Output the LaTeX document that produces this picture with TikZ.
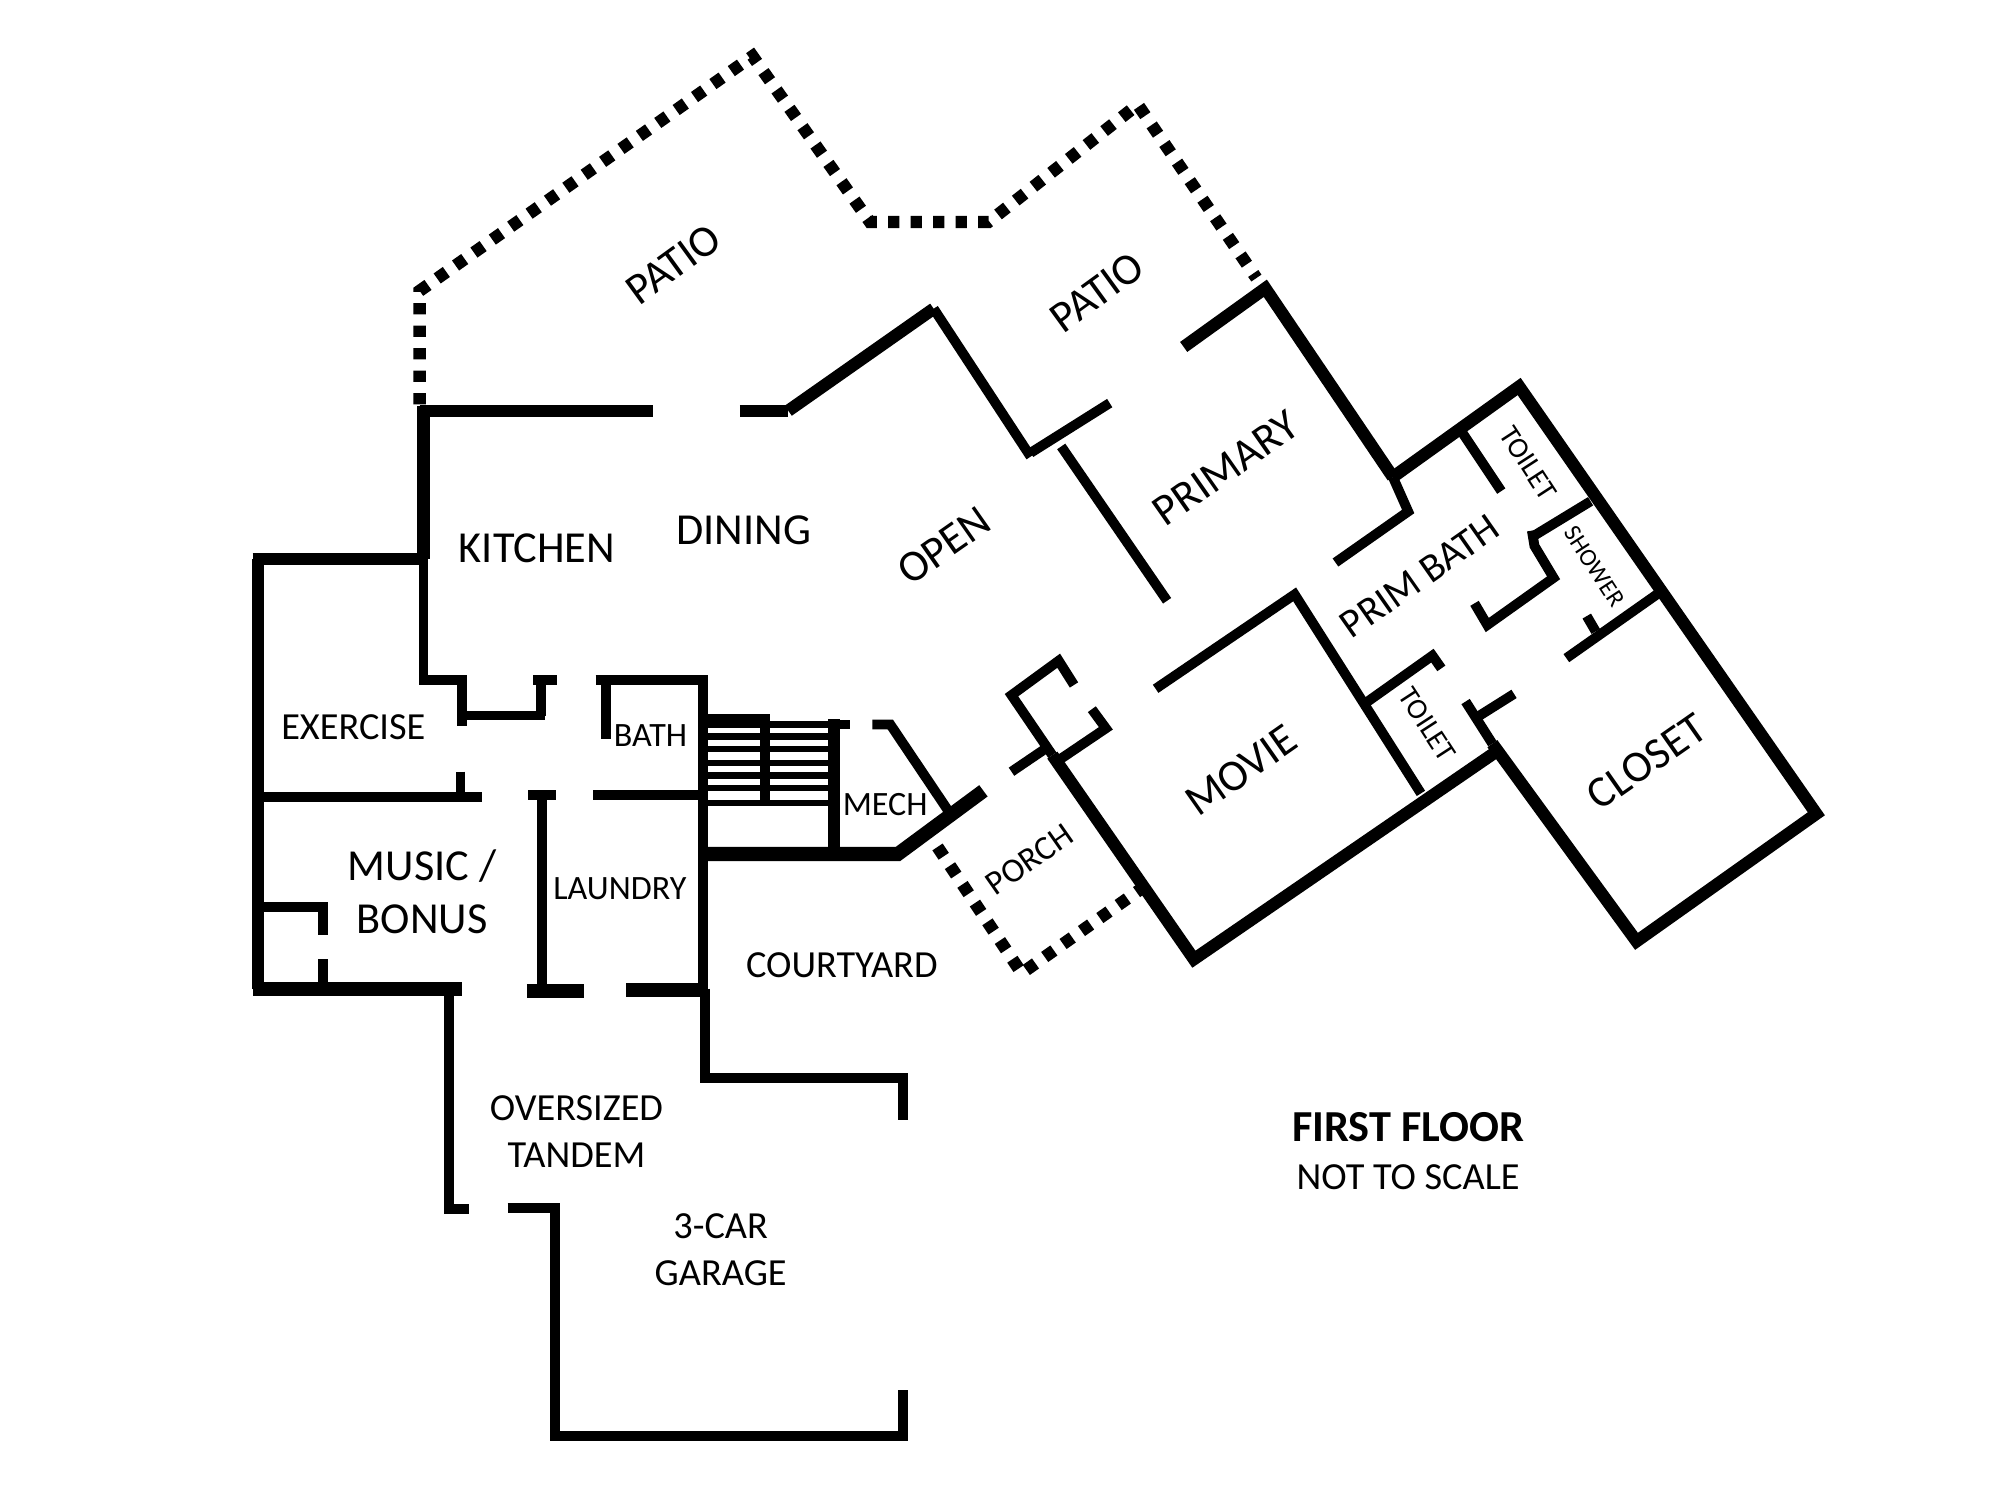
\documentclass[tikz,border=0pt]{standalone}
\usepackage{fontspec}
\setmainfont{Carlito}
\tikzset{
	wall/.style={line width=2.8pt, line join=miter},
	thickwall/.style={line width=3.5pt, line join=miter},
	heavywall/.style={line width=4pt, line join=miter},
	stairline/.style={line width=1.8pt},
	dotwall/.style={line width=3.5pt, dash pattern=on 3.2pt off 3.2pt},
	lbl/.style={font=\fontsize{12.6pt}{15pt}\selectfont, inner sep=0pt},
	lblsmall/.style={font=\fontsize{10.9pt}{13pt}\selectfont, inner sep=0pt},
	lblmini/.style={font=\fontsize{9.7pt}{12pt}\selectfont, inner sep=0pt},
	lbltiny/.style={font=\fontsize{8.3pt}{10pt}\selectfont, inner sep=0pt},
}
\begin{document}
\begin{tikzpicture}[x=0.012755cm, y=-0.012755cm]
	\useasboundingbox (0,0) rectangle (1568,1176);

	% Patio edge
	\draw[dotwall] (329,317) -- (329,228) -- (590,44) -- (682,174) -- (775,174) -- (892,82) -- (985,218);

	% Porch edge
	\draw[dotwall] (735,664) -- (801,763) -- (893,698);

	% West wing
	\draw[thickwall] (202,775) -- (202,438);
	\draw[thickwall] (198,438) -- (332,438);
	\draw[heavywall] (198,775) -- (362,775);
	\draw[wall] (202,625) -- (378,625);
	\draw[wall] (202,711) -- (257,711);
	\draw[wall] (253,708) -- (253,733);
	\draw[wall] (253,752) -- (253,775);
	\draw[wall] (361,605) -- (361,625);

	% Kitchen and bath
	\draw[thickwall] (332,318) -- (332,438);
	\draw[wall] (332,438) -- (332,533) -- (362,533) -- (362,561) -- (427,561);
	\draw[wall] (362,561) -- (362,569);
	\draw[wall] (424,561) -- (424,533);
	\draw[wall] (418,533) -- (437,533);
	\draw[wall] (467,533) -- (551,533) -- (551,775);
	\draw[wall] (475,533) -- (475,579);
	\draw[wall] (465,623) -- (551,623);
	\draw[thickwall] (329,322) -- (512,322);
	\draw[thickwall] (580,322) -- (618,322);

	% Laundry
	\draw[wall] (425,623) -- (425,777);
	\draw[wall] (414,623) -- (436,623);
	\draw[heavywall] (413,777) -- (458,777);
	\draw[heavywall] (491,776) -- (555,776);

	% Stairs
	\draw[heavywall] (551,565) -- (604,565);
	\draw[stairline] (604,568) -- (651,568);
	\foreach \stepy in {577.5,587.3,598.4,608,617.8,629.6}
		\draw[stairline] (551,\stepy) -- (651,\stepy);
	\draw[wall] (600,565) -- (600,630);

	% Mech
	\draw[thickwall] (654,564) -- (654,669);
	\draw[wall] (654,568) -- (666,568);
	\draw[wall] (684,568) -- (698,568) -- (743,635);
	\draw[heavywall] (548,669.5) -- (704,669.5) -- (771,620);

	% Garage and courtyard
	\draw[wall] (352,775) -- (352,948) -- (368,948);
	\draw[wall] (398,947) -- (435,947) -- (435,1126) -- (708,1126) -- (708,1090);
	\draw[wall] (553,775) -- (553,845) -- (708,845) -- (708,878);

	% Open and primary
	\draw[thickwall] (618,322) -- (732,242);
	\draw[wall] (732,242) -- (808,358);
	\draw[wall] (808,355) -- (870,316);
	\draw[wall] (832,350) -- (915,471);
	\draw[thickwall] (928,272) -- (992,226) -- (1092,374);
	\draw[wall] (1092,374) -- (1104,401) -- (1047,441);

	% Porch and movie
	\draw[wall] (842,537) -- (830,518) -- (793,545) -- (825,592);
	\draw[wall] (830,596) -- (867,571) -- (856,556);
	\draw[wall] (821,586) -- (793,605);
	\draw[thickwall] (825,592) -- (936,752) -- (1172,590);
	\draw[wall] (906,540) -- (1015,466) -- (1114,622);

	% Primary bath
	\draw[thickwall] (1092,374) -- (1191,303) -- (1424,638) -- (1283,738) -- (1170,583);
	\draw[wall] (1145,337) -- (1177,385);
	\draw[wall] (1247,393) -- (1201,421);
	\draw[wall] (1201,416) -- (1203,428) -- (1218,453) -- (1166,490) -- (1156,473);
	\draw[wall] (1299,466) -- (1228,516);
	\draw[wall] (1251,495) -- (1244,483);
	\draw[wall] (1068,553) -- (1123,514) -- (1130,524);
	\draw[wall] (1170,583) -- (1149,550);
	\draw[wall] (1160,561) -- (1187,544);

	% Labels
	\node[lbl, rotate=36] (patioa) at (528,207) {PATIO};
	\node[lbl, rotate=36] (patiob) at (860,229) {PATIO};
	\node[lbl] (kitchen) at (421,430) {KITCHEN};
	\node[lbl] (dining) at (583,416) {DINING};
	\node[lbl, rotate=35] (open) at (740,428) {OPEN};
	\node[lbl, rotate=35] (primary) at (961,367) {PRIMARY};
	\node[font=\fontsize{11.5pt}{13pt}\selectfont, inner sep=0pt, rotate=35] (primbath) at (1113,452) {PRIM BATH};
	\node[lbltiny, rotate=-57] (toileta) at (1198,363) {TOILET};
	\node[font=\fontsize{7pt}{9pt}\selectfont, inner sep=0pt, rotate=-57] (shower) at (1250,444) {SHOWER};
	\node[lbltiny, rotate=-57] (toiletb) at (1119,568) {TOILET};
	\node[lblsmall] (exercise) at (277,570) {EXERCISE};
	\node[lblmini] (bath) at (510,577) {BATH};
	\node[lblmini] (mech) at (694,631) {MECH};
	\node[lbl] (music) at (331,679) {MUSIC /};
	\node[lbl] (bonus) at (331,721) {BONUS};
	\node[lblmini] (laundry) at (486,697) {LAUNDRY};
	\node[lblmini, rotate=35] (porch) at (807,674) {PORCH};
	\node[lbl, rotate=35] (movie) at (973,604) {MOVIE};
	\node[lbl, rotate=35] (closet) at (1291,597) {CLOSET};
	\node[lblsmall] (courtyard) at (660,757) {COURTYARD};
	\node[lblsmall] (oversized) at (452,869) {OVERSIZED};
	\node[lblsmall] (tandem) at (452,906) {TANDEM};
	\node[lblsmall] (threecar) at (565,961) {3-CAR};
	\node[lblsmall] (garage) at (565,998) {GARAGE};
	\node[lbl] (firstfloor) at (1104,884) {\bfseries FIRST FLOOR};
	\node[lblsmall] (notscale) at (1104,923) {NOT TO SCALE};
\end{tikzpicture}
\end{document}
